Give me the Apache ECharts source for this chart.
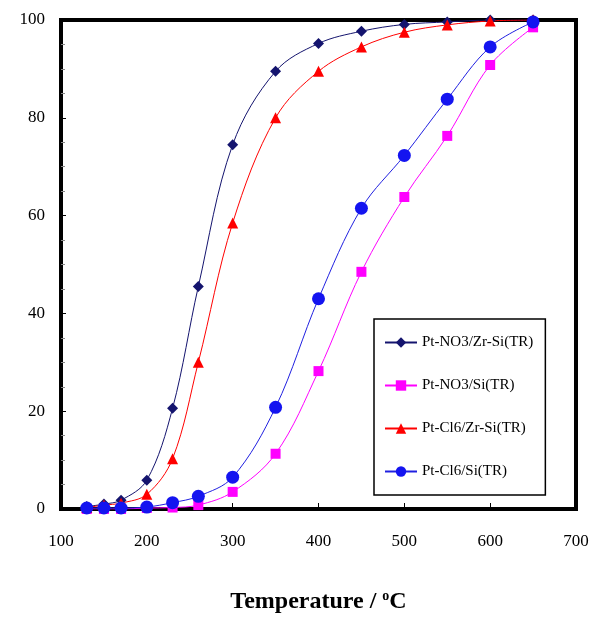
<!DOCTYPE html>
<html><head><meta charset="utf-8">
<script src="https://cdn.jsdelivr.net/npm/echarts@6/dist/echarts.min.js"></script>
<style>html,body{margin:0;padding:0;background:#fff}#c{width:595px;height:623px}</style>
</head><body><div id="c"></div>
<script>
var temps = [130,150,170,200,230,260,300,350,400,450,500,550,600,650];
var names = ['Pt-NO3/Zr-Si(TR)','Pt-NO3/Si(TR)','Pt-Cl6/Zr-Si(TR)','Pt-Cl6/Si(TR)'];
var no3ZrSi = [0.5,1.0,1.8,5.9,20.6,45.5,74.5,89.5,95.2,97.7,99.1,99.6,100,100];
var no3Si   = [0,0,0,0.2,0.3,0.8,3.5,11.3,28.2,48.5,63.8,76.3,90.8,98.5];
var cl6ZrSi = [0.3,0.8,1.2,3.0,10.3,30.0,58.5,80.0,89.5,94.5,97.5,99.0,99.8,100];
var cl6Si   = [0.2,0.2,0.2,0.4,1.3,2.6,6.5,20.8,43.0,61.5,72.3,83.8,94.5,99.6];
var xTicks = [100,200,300,400,500,600,700];
var yTicks = [0,20,40,60,80,100];

function pairs(v){return temps.map(function(t,i){return [t,v[i]];});}
var serif = '"Liberation Serif","DejaVu Serif",serif';
function mk(name,data,color,lineColor,symbol,size){
  return {name:name,type:'line',smooth:0.35,data:pairs(data),symbol:symbol,symbolSize:size,
    itemStyle:{color:color},lineStyle:{color:lineColor,width:1},z:3};
}
var chart = echarts.init(document.getElementById('c'));
chart.setOption({
  animation:false,
  grid:{left:61,top:20,right:19,bottom:114,show:true,borderColor:'#000',borderWidth:4,backgroundColor:'transparent'},
  xAxis:{type:'value',min:xTicks[0],max:xTicks[xTicks.length-1],interval:100,
    axisLine:{show:false},axisTick:{show:true,inside:true,length:6,lineStyle:{color:'#000',width:1}},
    splitLine:{show:false},
    axisLabel:{fontFamily:serif,fontSize:17,color:'#000',margin:24},
    name:'{a|Temperature / }{s|o}{a|C}',nameLocation:'middle',nameGap:80,
    nameTextStyle:{rich:{a:{fontFamily:serif,fontSize:24,fontWeight:'bold',color:'#000'},
      s:{fontFamily:serif,fontSize:14,fontWeight:'bold',color:'#000',verticalAlign:'top',padding:[0,0,12,0]}}}},
  yAxis:{type:'value',min:yTicks[0],max:yTicks[yTicks.length-1],interval:20,
    axisLine:{show:false},axisTick:{show:true,inside:true,length:5,lineStyle:{color:'#000',width:1}},
    minorTick:{show:true,splitNumber:4,length:4,lineStyle:{color:'#888',width:1}},
    splitLine:{show:false},
    axisLabel:{fontFamily:serif,fontSize:17,color:'#000',margin:16}},
  legend:{orient:'vertical',left:374,top:319,width:170,
    padding:[16,12,16,10],itemGap:28,itemWidth:32,itemHeight:13,
    borderColor:'#000',borderWidth:1.5,backgroundColor:'#fff',
    textStyle:{fontFamily:serif,fontSize:15,color:'#000'},
    data:names},
  series:[
    mk(names[0],no3ZrSi,'#14146e','#14146e','diamond',11),
    mk(names[1],no3Si,'#ff00ff','#ff00ff','rect',10),
    mk(names[2],cl6ZrSi,'#ff0000','#ff0000','triangle',11),
    mk(names[3],cl6Si,'#1414f0','#2020e0','circle',13)
  ]
});
</script></body></html>
